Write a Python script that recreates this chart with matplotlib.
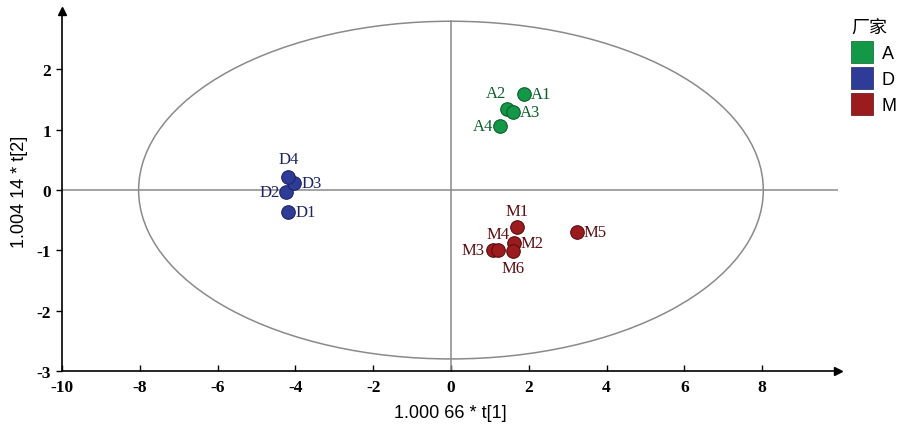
import matplotlib.pyplot as plt
from matplotlib.patches import Ellipse
from matplotlib.lines import Line2D

plt.rcParams['font.family'] = ['Liberation Sans', 'Noto Sans CJK SC']
plt.rcParams['axes.unicode_minus'] = False

# scores
names = ["A1", "A2", "A3", "A4", "D1", "D2", "D3", "D4",
         "M1", "M2", "M3", "M4", "M5", "M6"]
groups = ["A"] * 4 + ["D"] * 4 + ["M"] * 6
t1 = [1.87, 1.44, 1.59, 1.26, -4.18, -4.23, -4.03, -4.18,
      1.69, 1.62, 1.08, 1.20, 3.23, 1.59]
t2 = [1.60, 1.34, 1.29, 1.06, -0.36, -0.03, 0.12, 0.21,
      -0.61, -0.88, -0.99, -0.99, -0.69, -1.01]
# label placement (offset in points, alignment)
label_dx = [5, -1, 5, -5, 5, -5, 5, 0, 0, 5, -6, 0, 5, 0]
label_dy = [0, 11.5, 0, 0, 0, 0, 0, 13, 11.5, 0, 0, 11.5, 0, -12]
label_ha = ["left", "right", "left", "right", "left", "right", "left", "center",
            "center", "left", "right", "center", "left", "center"]

colors = {"A": "#129846", "D": "#2f3c97", "M": "#9b1b1e"}
edges = {"A": "#0b5e2a", "D": "#1c2466", "M": "#5c0d10"}
ell_w, ell_h = 16.06, 5.6

fig = plt.figure(figsize=(8.97, 4.27), dpi=100)
ax = fig.add_axes([62 / 897, 1 - 372 / 427, (838 - 62) / 897, (372 - 12) / 427])
ax.set_xlim(-10, 9.95)
ax.set_ylim(-3, 2.97)

ax.add_patch(Ellipse((0, 0), ell_w, ell_h, fill=False, ec="#8a8a8a", lw=1.1))
ax.axhline(0, color="#8a8a8a", lw=1.1)
ax.plot([0, 0], [-3, 2.8], color="#8a8a8a", lw=1.1)

for x, y, g, n, dx, dy, ha in zip(t1, t2, groups, names, label_dx, label_dy, label_ha):
    ax.scatter(x, y, s=95, c=colors[g], edgecolors=edges[g], linewidths=0.8, zorder=3)
    ax.annotate(n, (x, y), xytext=(dx, dy), textcoords="offset points",
                va="center", ha=ha, fontsize=12, color=edges[g],
                family="Liberation Serif", zorder=4)

for s in ["top", "right"]:
    ax.spines[s].set_visible(False)
for s in ["left", "bottom"]:
    ax.spines[s].set_linewidth(1.2)
ax.plot(1, 0, ">k", transform=ax.transAxes, clip_on=False, ms=6)
ax.plot(0, 1, "^k", transform=ax.transAxes, clip_on=False, ms=6)

ax.set_xticks(range(-10, 10, 2))
ax.set_yticks(range(-3, 3))
ax.tick_params(axis="x", direction="in", length=4, width=1, labelsize=12.5, pad=6)
ax.tick_params(axis="y", direction="out", length=4, width=1, labelsize=12.5, pad=4)
for lab in ax.get_xticklabels() + ax.get_yticklabels():
    lab.set_family("Liberation Serif")
    lab.set_fontweight("bold")
ax.get_yticklabels()[0].set_y(-2.93)
ax.set_xlabel("1.000 66 * t[1]", fontsize=13, labelpad=6)
ax.set_ylabel("1.004 14 * t[2]", fontsize=13, labelpad=6)

handles = [Line2D([], [], ls="", marker="s", ms=16, mfc=colors[g], mec=edges[g], mew=0.5)
           for g in ["A", "D", "M"]]
leg = fig.legend(handles, ["A", "D", "M"], title="厂家", loc="upper left",
                 bbox_to_anchor=(835 / 897, 1 - 4 / 427), frameon=False,
                 fontsize=13, title_fontsize=13, handletextpad=0.5,
                 labelspacing=0.5, handlelength=1.2)
leg._legend_box.align = "left"

fig.savefig("out.png", dpi=100)
